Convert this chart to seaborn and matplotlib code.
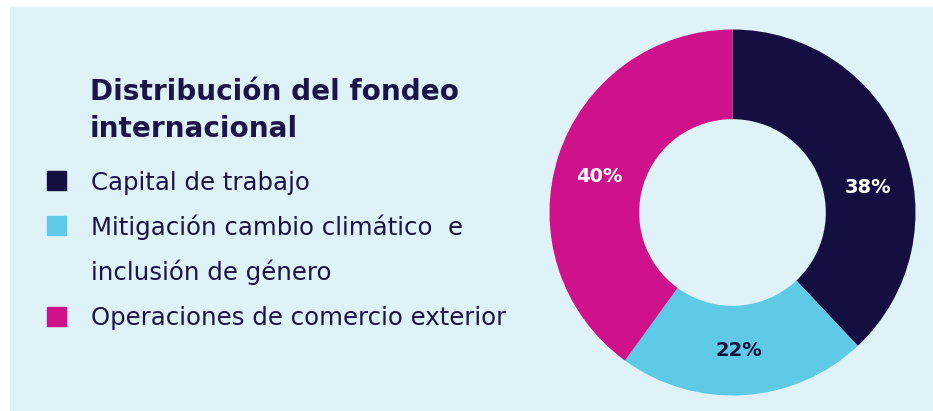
import numpy as np
import matplotlib
matplotlib.use("Agg")
import matplotlib.pyplot as plt
from matplotlib.patches import Rectangle
import seaborn as sns

# data
categories = ["Capital de trabajo",
              "Mitigación cambio climático  e\ninclusión de género",
              "Operaciones de comercio exterior"]
shares = [38, 22, 40]
pct_labels = ["38%", "22%", "40%"]
title = "Distribución del fondeo\ninternacional"

colors = ["#150E40", "#5FCAE5", "#D0118C"]
label_colors = ["white", "#150E40", "white"]
label_nudge = [11, 1, -3]  # degrees, labels are hand placed in the original
BG = "#DFF2F8"
INK = "#1B1547"


def main():
    sns.set_theme(style="white")
    plt.rcParams["font.family"] = ["DejaVu Sans"]

    W, H = 933, 411
    fig = plt.figure(figsize=(W / 100, H / 100), dpi=100)
    fig.patch.set_facecolor("white")
    fig.patches.append(Rectangle((10 / W, 0), 1 - 10 / W, (H - 7) / H,
                                 transform=fig.transFigure, color=BG, zorder=-5))

    # donut
    cx, cy, r = 732.5, H - 212.5, 183
    ax = fig.add_axes([(cx - r) / W, (cy - r) / H, 2 * r / W, 2 * r / H])
    ax.set_facecolor("none")
    ax.set_zorder(3)
    wedges, _ = ax.pie(shares, colors=colors, startangle=90, counterclock=False,
                       radius=1, wedgeprops=dict(width=0.49, linewidth=0))
    for w, lab, col, nud in zip(wedges, pct_labels, label_colors, label_nudge):
        ang = np.deg2rad((w.theta1 + w.theta2) / 2 - nud)
        ax.text(0.754 * np.cos(ang), 0.754 * np.sin(ang), lab, color=col,
                ha="center", va="center", fontsize=14, fontweight="bold")
    ax.set_xlim(-1, 1)
    ax.set_ylim(-1, 1)
    ax.axis("off")

    # title, two lines
    for i, line in enumerate(title.split("\n")):
        fig.text(90 / W, 1 - (100 + 37 * i) / H, line, ha="left", va="baseline",
                 fontsize=20.1, fontweight="bold", color=INK)

    # legend, drawn by hand so the wrapped label keeps its square on line one
    step = 45
    y = 190
    for name, col in zip(categories, colors):
        fig.patches.append(Rectangle((47 / W, 1 - (y + 0.5) / H), 19 / W, 19 / H,
                                     transform=fig.transFigure, color=col, zorder=2))
        for line in name.split("\n"):
            fig.text(91 / W, 1 - y / H, line, ha="left", va="baseline",
                     fontsize=17.6, color=INK)
            y += step

    fig.savefig("out.png", dpi=100, facecolor=fig.get_facecolor())


if __name__ == "__main__":
    main()
